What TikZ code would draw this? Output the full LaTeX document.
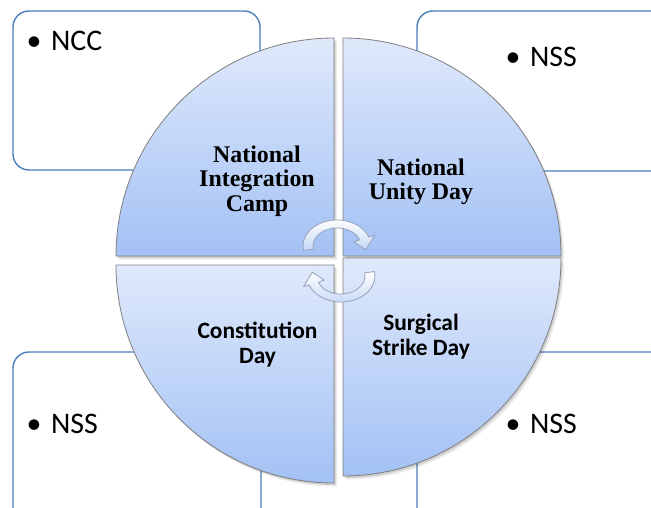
\documentclass[tikz,border=0pt]{standalone}
\usepackage{fontspec}
\setmainfont{Carlito}
\newfontfamily\timesfont{Liberation Serif}
\definecolor{boxblue}{HTML}{4A7EBB}
\definecolor{qtop}{HTML}{DFE9FB}
\definecolor{qbot}{HTML}{A3C1F5}
\definecolor{qline}{HTML}{7F7F7F}
\definecolor{arrline}{HTML}{97A3B6}
\definecolor{arrfill}{HTML}{C6D8F6}
\begin{document}
\begin{tikzpicture}[x=1bp,y=-1bp]
\tikzset{
  cornerbox/.style={draw=boxblue, line width=1.4bp, fill=white, rounded corners=16bp},
  quad/.style={draw=qline, line width=0.8bp, top color=qtop, bottom color=qbot},
  qshadow/.style={fill=black, opacity=0.13},
  boxtext/.style={font=\fontsize{30}{36}\selectfont, anchor=base west, inner sep=0pt},
  seriflabel/.style={font=\timesfont\bfseries\fontsize{24}{24.5}\selectfont, align=center, inner sep=0pt},
  sanslabel/.style={font=\bfseries\fontsize{23.5}{25}\selectfont, align=center, inner sep=0pt},
  cyclearrow/.style={draw=arrline, line width=0.8bp, top color=white, bottom color=arrfill},
}
\useasboundingbox (0,0) rectangle (651,508);
\clip (0,0) rectangle (651,508);
\fill[white] (0,0) rectangle (651,508);

% corner boxes
\draw[cornerbox] (13,11) rectangle (260,170);
\draw[cornerbox] (417,11) rectangle (700,171);
\draw[cornerbox] (13,352) rectangle (261,560);
\draw[cornerbox] (417,352) rectangle (700,560);

% box texts
\node[boxtext] (ncc) at (26.5,51) {\makebox[24.5bp][l]{•}NCC};
\node[boxtext] (nssa) at (505.5,67) {\makebox[24.5bp][l]{•}NSS};
\node[boxtext] (nssb) at (26.5,433) {\makebox[24.5bp][l]{•}NSS};
\node[boxtext] (nssc) at (505.5,433) {\makebox[24.5bp][l]{•}NSS};

% shadows of quadrants
\foreach \dx/\dy/\op in {1.5/2/0.12, 3/3.5/0.08}{
  \fill[black, opacity=\op, shift={(\dx,\dy)}] (334,256) -- (116,256) arc[start angle=180,end angle=270,radius=218] -- cycle;
  \fill[black, opacity=\op, shift={(\dx,\dy)}] (343,256) -- (343,38) arc[start angle=270,end angle=360,radius=218] -- cycle;
  \fill[black, opacity=\op, shift={(\dx,\dy)}] (334,265) -- (334,483) arc[start angle=90,end angle=180,radius=218] -- cycle;
  \fill[black, opacity=\op, shift={(\dx,\dy)}] (343,258) -- (561,258) arc[start angle=0,end angle=90,radius=218] -- cycle;
}

% quadrants
\path[quad] (334,256) -- (116,256) arc[start angle=180,end angle=270,radius=218] -- cycle;
\path[quad] (343,256) -- (343,38) arc[start angle=270,end angle=360,radius=218] -- cycle;
\path[quad] (334,265) -- (334,483) arc[start angle=90,end angle=180,radius=218] -- cycle;
\path[quad] (343,258) -- (561,258) arc[start angle=0,end angle=90,radius=218] -- cycle;

% quadrant labels
\node[seriflabel] (nic) at (257,181) {National\\Integration\\Camp};
\node[seriflabel] (nud) at (421,182) {National\\Unity Day};
\node[sanslabel] (cd) at (257.5,345) {Constitution\\Day};
\node[sanslabel] (ssd) at (421,337) {Surgical\\Strike Day};

% circular arrows
\path[cyclearrow] (303.5,250.5) arc[start angle=170,end angle=340,x radius=34,y radius=26]
  -- (374.6,235.4) -- (365.6,249.8) -- (353.9,241.9) -- (359.6,239.8)
  arc[start angle=340,end angle=170,x radius=24,y radius=18] -- cycle;
\begin{scope}[rotate around={180:(339,261)}]
\path[cyclearrow] (303.5,250.5) arc[start angle=170,end angle=340,x radius=34,y radius=26]
  -- (374.6,235.4) -- (365.6,249.8) -- (353.9,241.9) -- (359.6,239.8)
  arc[start angle=340,end angle=170,x radius=24,y radius=18] -- cycle;
\end{scope}
\end{tikzpicture}
\end{document}
